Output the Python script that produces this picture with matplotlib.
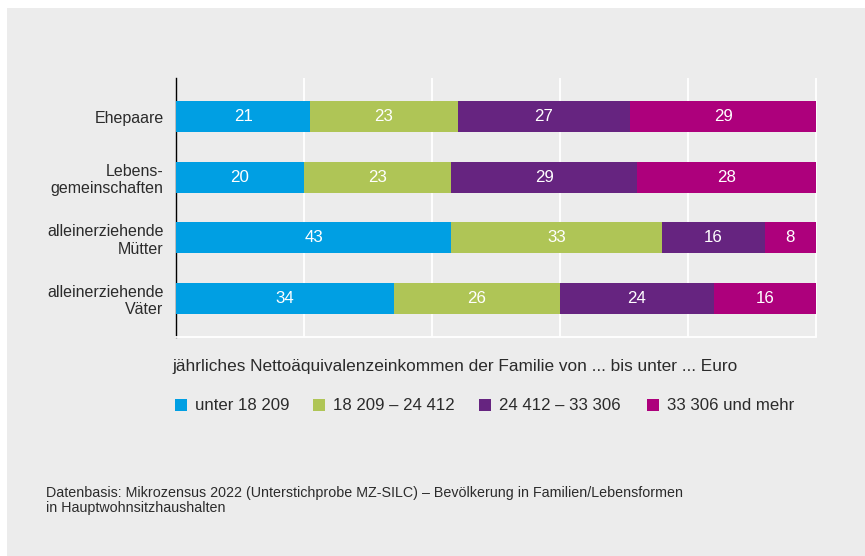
import matplotlib.pyplot as plt
from matplotlib.patches import Rectangle

plt.rcParams['font.family'] = ['Liberation Sans', 'DejaVu Sans']

# Familienformen (von oben nach unten) und Anteile je Einkommensklasse in %
groups = ['Ehepaare', 'Lebens-\ngemeinschaften', 'alleinerziehende\nMütter', 'alleinerziehende\nVäter']
income_classes = ['unter 18 209', '18 209 – 24 412', '24 412 – 33 306', '33 306 und mehr']
shares = [
    [21, 20, 43, 34],   # unter 18 209
    [23, 23, 33, 26],   # 18 209 – 24 412
    [27, 29, 16, 24],   # 24 412 – 33 306
    [29, 28, 8, 16],    # 33 306 und mehr
]
grid_ticks = [20, 40, 60, 80, 100]
source_lines = [
    'Datenbasis: Mikrozensus 2022 (Unterstichprobe MZ-SILC) – Bevölkerung in Familien/Lebensformen',
    'in Hauptwohnsitzhaushalten',
]

colors = ['#009fe3', '#afc556', '#662480', '#ad007c']
bg = '#ececec'
text_color = '#2b2b2b'

W, H = 865, 556
fig = plt.figure(figsize=(W / 100, H / 100), dpi=100)
fig.patch.set_facecolor('white')
# grey panel behind everything
fig.patches.append(Rectangle((7 / W, 0), 1 - 7 / W, 1 - 8 / H, transform=fig.transFigure,
                             facecolor=bg, edgecolor='none', zorder=-10))

ax = fig.add_axes([176 / W, 1 - 337 / H, 640 / W, (337 - 78) / H])
ax.set_facecolor(bg)

ypos = list(range(len(groups)))
left = [0] * len(groups)
for vals, col in zip(shares, colors):
    bars = ax.barh(ypos, vals, left=left, height=0.51, color=col, zorder=3)
    ax.bar_label(bars, labels=[str(v) for v in vals], label_type='center',
                 color='white', fontsize=12.2)
    left = [l + v for l, v in zip(left, vals)]

# white vertical guide lines
ax.vlines(grid_ticks, -0.635, 3.635, colors='white', linewidth=1.3, zorder=1, clip_on=False)

ax.set_xlim(0, 100)
ax.set_ylim(3.635, -0.635)
ax.set_xticks([])
ax.set_yticks(ypos)
ax.set_yticklabels(groups, fontsize=11.5, color=text_color)
ax.tick_params(axis='y', length=0, pad=9)

for side in ['top', 'right']:
    ax.spines[side].set_visible(False)
ax.spines['left'].set_color('black')
ax.spines['left'].set_linewidth(1.0)
ax.spines['bottom'].set_color('white')
ax.spines['bottom'].set_linewidth(1.3)

fig.text(172 / W, 1 - 367 / H,
         'jährliches Nettoäquivalenzeinkommen der Familie von ... bis unter ... Euro',
         ha='left', va='center', fontsize=12.4, color=text_color)

# legend row
legend_x = [175, 313, 479, 647]
for x, col, lab in zip(legend_x, colors, income_classes):
    fig.patches.append(Rectangle((x / W, 1 - 411 / H), 12 / W, 12 / H,
                                 transform=fig.transFigure, facecolor=col, edgecolor='none'))
    fig.text((x + 20) / W, 1 - 405.5 / H, lab, ha='left', va='center',
             fontsize=12.1, color=text_color)

for i, line in enumerate(source_lines):
    fig.text(46 / W, 1 - (497 + 15 * i) / H, line,
             ha='left', va='baseline', fontsize=10.3, color=text_color)

fig.savefig('out.png', dpi=100, facecolor=fig.get_facecolor())
